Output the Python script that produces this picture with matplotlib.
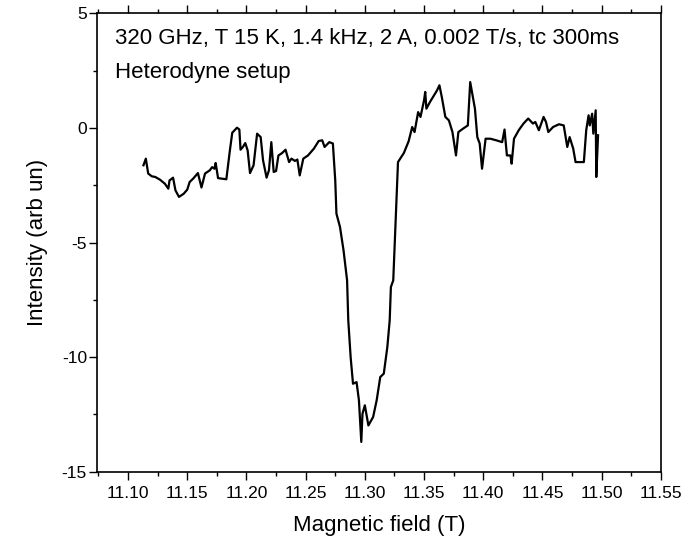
import numpy as np
import matplotlib
matplotlib.use("Agg")
import matplotlib.pyplot as plt
from matplotlib.ticker import MultipleLocator

plt.rcParams['font.family'] = ['Liberation Sans', 'DejaVu Sans']
plt.rcParams['axes.unicode_minus'] = False

# Magnetic field (T) and intensity (arb un)
field = [11.113, 11.115, 11.117, 11.120, 11.123, 11.127, 11.131, 11.134, 11.135, 11.138,
         11.140, 11.143, 11.147, 11.150, 11.152, 11.155, 11.159, 11.162, 11.165, 11.169,
         11.171, 11.173, 11.174, 11.176, 11.183, 11.186, 11.188, 11.192, 11.194, 11.195,
         11.197, 11.199, 11.201, 11.203, 11.206, 11.209, 11.212, 11.214, 11.217, 11.219,
         11.221, 11.223, 11.225, 11.227, 11.230, 11.233, 11.236, 11.238, 11.241, 11.243,
         11.245, 11.248, 11.252, 11.257, 11.261, 11.264, 11.266, 11.270, 11.273, 11.275,
         11.276, 11.279, 11.282, 11.285, 11.286, 11.288, 11.290, 11.293, 11.295, 11.297,
         11.298, 11.300, 11.303, 11.307, 11.310, 11.313, 11.316, 11.319, 11.321, 11.322,
         11.324, 11.326, 11.328, 11.333, 11.337, 11.340, 11.342, 11.345, 11.347, 11.350,
         11.351, 11.352, 11.355, 11.361, 11.363, 11.365, 11.368, 11.371, 11.374, 11.377,
         11.379, 11.383, 11.387, 11.389, 11.391, 11.393, 11.395, 11.397, 11.399, 11.402,
         11.406, 11.411, 11.416, 11.418, 11.420, 11.423, 11.424, 11.426, 11.430, 11.434,
         11.438, 11.442, 11.444, 11.447, 11.449, 11.451, 11.453, 11.455, 11.459, 11.464,
         11.468, 11.471, 11.473, 11.476, 11.478, 11.485, 11.487, 11.489, 11.490, 11.492,
         11.493, 11.495, 11.4955, 11.497]
intensity = [-1.63, -1.34, -1.99, -2.11, -2.14, -2.26, -2.43, -2.65, -2.29, -2.17,
             -2.72, -3.01, -2.87, -2.69, -2.36, -2.21, -1.97, -2.60, -1.99, -1.85,
             -1.71, -1.78, -1.53, -2.19, -2.24, -0.98, -0.21, 0.01, -0.07, -0.95,
             -0.83, -0.66, -0.98, -1.97, -1.63, -0.25, -0.40, -1.41, -2.17, -1.85,
             -0.62, -1.92, -1.88, -1.20, -1.10, -0.95, -1.49, -1.34, -1.44, -1.38,
             -2.07, -1.34, -1.20, -0.90, -0.57, -0.54, -0.83, -0.62, -0.68, -2.29,
             -3.74, -4.32, -5.34, -6.65, -8.39, -10.00, -11.16, -11.09, -11.88, -13.70,
             -12.47, -12.10, -12.98, -12.61, -11.88, -10.87, -10.72, -9.56, -8.39, -6.94,
             -6.65, -4.03, -1.49, -1.09, -0.58, 0.04, -0.18, 0.69, 0.48, 1.20,
             1.57, 0.84, 1.13, 1.64, 1.86, 1.35, 0.48, 0.33, -0.18, -1.20,
             -0.18, -0.03, 0.11, 2.00, 1.42, 0.84, -0.40, -0.68, -1.78, -0.47,
             -0.47, -0.54, -0.62, -0.07, -1.20, -1.20, -1.56, -0.47, -0.10, 0.19,
             0.41, 0.19, 0.26, -0.10, 0.19, 0.48, 0.26, -0.18, 0.04, 0.16,
             0.11, -0.83, -0.40, -0.90, -1.49, -1.49, -0.10, 0.55, 0.11, 0.62,
             -0.25, 0.77, -2.14, -0.32]

fig = plt.figure(figsize=(7, 5.46), dpi=100)
ax = fig.add_axes([0.139, 0.136, 0.805, 0.8396])

ax.plot(field, intensity, color='black', linewidth=1.6)

ax.set_xlim(11.074, 11.55)
ax.set_ylim(-15, 5)
ax.xaxis.set_major_locator(MultipleLocator(0.05))
ax.xaxis.set_minor_locator(MultipleLocator(0.025))
ax.yaxis.set_major_locator(MultipleLocator(5))
ax.yaxis.set_minor_locator(MultipleLocator(2.5))
ax.xaxis.set_major_formatter(plt.FormatStrFormatter('%.2f'))

ax.tick_params(axis='x', which='both', direction='out', top=True, bottom=True, labelsize=12.5, pad=5)
ax.tick_params(axis='y', which='both', direction='out', left=True, right=False, labelsize=12.5, pad=2)
ax.tick_params(which='major', length=5.5, width=1)
ax.tick_params(which='minor', length=3, width=1)
for s in ax.spines.values():
    s.set_linewidth(1.2)

ax.set_xlabel('Magnetic field (T)', fontsize=16, labelpad=10)
ax.set_ylabel('Intensity (arb un)', fontsize=16, labelpad=10)

ax.text(0.031, 0.932, '320 GHz, T 15 K, 1.4 kHz, 2 A, 0.002 T/s, tc 300ms',
        transform=ax.transAxes, fontsize=16, va='baseline', ha='left')
ax.text(0.031, 0.859, 'Heterodyne setup',
        transform=ax.transAxes, fontsize=16, va='baseline', ha='left')

fig.savefig('out.png', dpi=100)
